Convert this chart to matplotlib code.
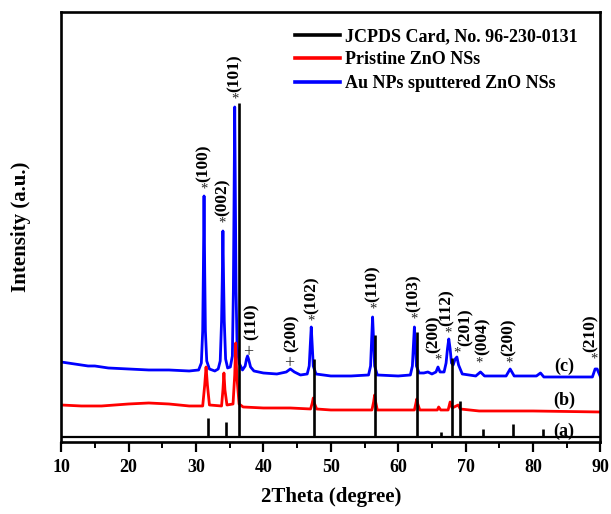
import numpy as np
import matplotlib
matplotlib.use('Agg')
import matplotlib.pyplot as plt
from matplotlib.lines import Line2D

plt.rcParams['font.family'] = ['Liberation Serif', 'DejaVu Serif']
plt.rcParams['font.weight'] = 'bold'
plt.rcParams['axes.labelweight'] = 'bold'

# (c) Au NPs sputtered ZnO NSs
tt_c = [10.0, 11.0, 12.0, 13.0, 14.0, 15.0, 17.0, 20.0, 23.0, 26.0, 29.0, 30.4, 30.8, 31.0, 31.1, 31.2,
        31.3, 31.4, 31.6, 32.0, 32.8, 33.3, 33.6, 33.8, 33.9, 34.0, 34.1, 34.2, 34.4, 34.7, 35.1, 35.4,
        35.55, 35.65, 35.75, 35.85, 35.95, 36.1, 36.4, 36.9, 37.3, 37.5, 37.65, 37.8, 38.1, 38.6, 40.0,
        42.0, 43.4, 44.0, 44.6, 45.5, 46.5, 46.8, 46.95, 47.1, 47.25, 47.4, 47.8, 50.0, 53.0, 55.6,
        55.9, 56.05, 56.2, 56.35, 56.5, 56.9, 60.0, 61.8, 62.1, 62.25, 62.4, 62.55, 62.7, 63.1, 63.8,
        64.4, 65.0, 65.6, 65.9, 66.2, 66.8, 67.1, 67.3, 67.5, 67.7, 67.9, 68.15, 68.45, 68.7, 68.95,
        69.5, 71.5, 72.2, 72.8, 76.0, 76.6, 77.2, 80.5, 81.1, 81.6, 88.8, 89.2, 89.5, 90.0]
int_c = [79, 78, 77, 76, 75, 75, 73, 72, 71, 71, 70, 71, 78, 110, 170, 245,
         170, 110, 80, 72, 70, 72, 80, 120, 160, 210, 160, 120, 82, 73, 74, 85,
         150, 240, 334, 240, 150, 95, 78, 71, 75, 82, 85, 82, 74, 70, 68,
         67, 69, 72, 69, 66, 67, 75, 95, 114, 95, 75, 67, 65, 65, 66,
         75, 100, 124, 100, 75, 66, 65, 66, 75, 95, 114, 95, 75, 68, 68,
         69, 67, 69, 74, 69, 69, 78, 92, 102, 92, 78, 76, 82, 84, 76,
         67, 65, 69, 65, 65, 72, 65, 65, 68, 64, 64, 72, 72, 64]

# (b) Pristine ZnO NSs
tt_b = [10, 13, 16, 20, 23, 26, 29, 31.0, 31.3, 31.5, 31.7, 32.0, 33.8, 34.0, 34.15, 34.3, 34.6,
        35.5, 35.75, 35.9, 36.05, 36.4, 37.0, 40, 44, 47.0, 47.25, 47.4, 47.55, 47.9, 50, 56.1,
        56.35, 56.5, 56.65, 56.9, 62.4, 62.6, 62.75, 62.9, 63.2, 65.8, 66.0, 66.3, 67.4, 67.7,
        68.0, 68.6, 68.9, 69.2, 72, 80, 90]
int_b = [36, 35, 35, 37, 38, 37, 35, 35, 56, 74, 56, 36, 35, 51, 68, 51, 36,
         37, 66, 98, 66, 37, 34, 33, 33, 32, 38, 43, 38, 32, 31, 31,
         39, 46, 39, 31, 31, 37, 42, 37, 31, 31, 34, 31, 31, 39,
         33, 35, 36, 32, 30, 30, 29]

# (a) JCPDS reference lines
ref_pos = [31.8, 34.4, 36.35, 47.5, 56.55, 62.85, 66.4, 67.95, 69.1, 72.55, 76.95, 81.45]
ref_top = [23, 19, 338, 82, 106, 109, 9, 83, 40, 12, 17, 12]
ref_base = 4

# peak labels: marker, marker centre, label text, label x, label bottom
marks = ['*', '*', '*', '+', '+', '*', '*', '*', '*', '*', '*', '*', '*', '*']
mark_x = [31.15, 33.8, 35.8, 37.75, 43.8, 47.1, 56.2, 62.3, 65.85, 67.45, 68.75, 72.05, 76.45, 89.0]
mark_y = [253, 219, 343, 90, 79, 121, 133, 123, 82, 109, 89, 79, 79, 83]
hkl = ['(100)', '(002)', '(101)', '(110)', '(200)', '(102)', '(110)', '(103)', '(200)', '(112)',
       '(201)', '(004)', '(200)', '(210)']
hkl_x = [31.1, 34.0, 35.8, 38.3, 44.2, 47.1, 56.2, 62.3, 65.2, 67.25, 70.0, 72.55, 76.4, 88.6]
hkl_y = [259, 225, 349, 101, 89, 127, 139, 129, 88, 115, 95, 86, 85, 89]

fig = plt.figure(figsize=(6.11, 5.14), dpi=100)
ax = fig.add_axes([0.1, 0.1401, 0.8828, 0.8366])

ax.plot(tt_c, int_c, color='#0000ff', lw=2.0)
ax.plot(tt_b, int_b, color='#ff0000', lw=2.0)
ax.vlines(ref_pos, ref_base, ref_top, color='black', lw=1.9)
ax.axhline(ref_base, color='black', lw=1.6)

for m, mx, my, t, tx, ty in zip(marks, mark_x, mark_y, hkl, hkl_x, hkl_y):
    if m == '+':
        ax.text(mx, my + 7, m, ha='center', va='top', fontsize=13, fontweight='normal', color='#222222')
    else:
        ax.text(mx, my + 5, m, ha='center', va='top', fontsize=10.5, fontweight='normal', color='#222222')
    ax.text(tx, ty, t, ha='center', va='bottom', rotation=90, fontsize=12.5, fontweight='bold')

ax.text(84.6, 75, '(c)', ha='center', va='center', fontsize=13, fontweight='bold')
ax.text(84.6, 41, '(b)', ha='center', va='center', fontsize=13, fontweight='bold')
ax.text(84.6, 10, '(a)', ha='center', va='center', fontsize=13, fontweight='bold')

ax.set_xlim(10, 90)
ax.set_ylim(-1, 429)
ax.set_xticks(range(10, 91, 10))
ax.set_xticks(range(15, 90, 10), minor=True)
ax.set_yticks([])
ax.tick_params(axis='x', which='major', direction='out', length=7, width=1.6, labelsize=13, pad=5)
ax.tick_params(axis='x', which='minor', direction='out', length=4, width=1.4)
for lab in ax.get_xticklabels():
    lab.set_fontweight('bold')
for s in ax.spines.values():
    s.set_linewidth(1.9)

ax.set_xlabel('2Theta (degree)', fontsize=15, fontweight='bold', labelpad=8)
ax.set_ylabel('Intensity (a.u.)', fontsize=15, fontweight='bold', labelpad=22)

handles = [Line2D([], [], color='black', lw=2.6),
           Line2D([], [], color='#ff0000', lw=2.6),
           Line2D([], [], color='#0000ff', lw=2.6)]
names = ['JCPDS Card, No. 96-230-0131', 'Pristine ZnO NSs', 'Au NPs sputtered ZnO NSs']
ax.legend(handles, names, loc='upper left', bbox_to_anchor=(0.433, 0.963), frameon=False,
          prop={'size': 13, 'weight': 'bold'}, handlelength=2.5, handletextpad=0.3,
          labelspacing=0.36, borderpad=0, borderaxespad=0)

fig.savefig('out.png', dpi=100)
